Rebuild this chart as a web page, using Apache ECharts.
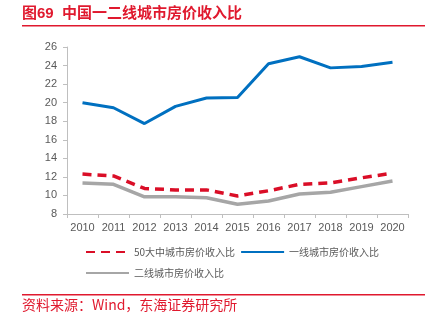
<!DOCTYPE html>
<html><head><meta charset="utf-8">
<script src="https://cdn.jsdelivr.net/npm/echarts@6/dist/echarts.min.js"></script>
<style>html,body{margin:0;padding:0;background:#fff}#c{width:429px;height:323px}</style>
</head><body><div id="c"></div>
<script>
const years = ['2010','2011','2012','2013','2014','2015','2016','2017','2018','2019','2020'];
const names = ['50大中城市房价收入比','一线城市房价收入比','二线城市房价收入比'];
const top50 = [12.3, 12.1, 10.75, 10.6, 10.6, 9.95, 10.5, 11.2, 11.35, 11.9, 12.4];
const tier1 = [20.0, 19.45, 17.75, 19.6, 20.5, 20.55, 24.2, 24.95, 23.75, 23.9, 24.35];
const tier2 = [11.35, 11.2, 9.85, 9.85, 9.75, 9.05, 9.4, 10.15, 10.35, 10.95, 11.55];
const yTicks = {min: 8, max: 26, interval: 2};
const titleText = '图69  中国一二线城市房价收入比';
const sourceText = '资料来源：Wind，东海证券研究所';

const chart = echarts.init(document.getElementById('c'), null, {renderer: 'canvas'});
const red = '#DA0E27', blue = '#0070C0', gray = '#A6A6A6', txt = '#595959';
const font = '"Liberation Sans", Arial, "Noto Sans CJK SC", sans-serif';
const legendCommon = {
  itemWidth: 43, itemHeight: 12, itemGap: 5, padding: 0,
  itemStyle: {opacity: 0},
  textStyle: {color: txt, fontSize: 10, fontFamily: '"Noto Sans CJK SC", sans-serif'}
};
chart.setOption({
  animation: false,
  textStyle: {fontFamily: font},
  graphic: [
    {type: 'text', left: 22, top: 6, style: {text: titleText, fill: '#E0192E', font: 'bold 15px "Liberation Sans", "Noto Sans CJK SC", sans-serif'}},
    {type: 'rect', shape: {x: 22, y: 25, width: 403, height: 1.5}, style: {fill: '#E0192E'}},
    {type: 'rect', shape: {x: 22, y: 294, width: 403, height: 1.5}, style: {fill: '#E0192E'}},
    {type: 'text', left: 22, top: 298, style: {text: sourceText, fill: '#E0192E', font: '14px "Noto Sans CJK SC", sans-serif'}}
  ],
  grid: {left: 67, right: 21, top: 47, bottom: 109},
  legend: [
    Object.assign({data: [names[0], names[1]], left: 85, top: 247}, legendCommon),
    Object.assign({data: [names[2]], left: 85, top: 268}, legendCommon)
  ],
  xAxis: {
    type: 'category', data: years, boundaryGap: true,
    axisLine: {lineStyle: {color: '#BFBFBF', width: 1}},
    axisTick: {show: true, length: 4, lineStyle: {color: '#BFBFBF'}},
    axisLabel: {color: txt, fontSize: 11, margin: 8, interval: 0}
  },
  yAxis: {
    type: 'value', min: yTicks.min, max: yTicks.max, interval: yTicks.interval,
    axisLine: {show: true, lineStyle: {color: '#BFBFBF', width: 1}},
    axisTick: {show: true, length: 4, lineStyle: {color: '#BFBFBF'}},
    axisLabel: {color: txt, fontSize: 11, margin: 10},
    splitLine: {show: false}
  },
  series: [
    {name: names[0], type: 'line', data: top50, symbol: 'none', lineStyle: {color: red, width: 3.5, type: [9, 6]}, itemStyle: {color: red}, z: 3},
    {name: names[1], type: 'line', data: tier1, symbol: 'none', lineStyle: {color: blue, width: 3}, itemStyle: {color: blue}, z: 2},
    {name: names[2], type: 'line', data: tier2, symbol: 'none', lineStyle: {color: gray, width: 3.5}, itemStyle: {color: gray}, z: 1}
  ]
});
</script></body></html>
